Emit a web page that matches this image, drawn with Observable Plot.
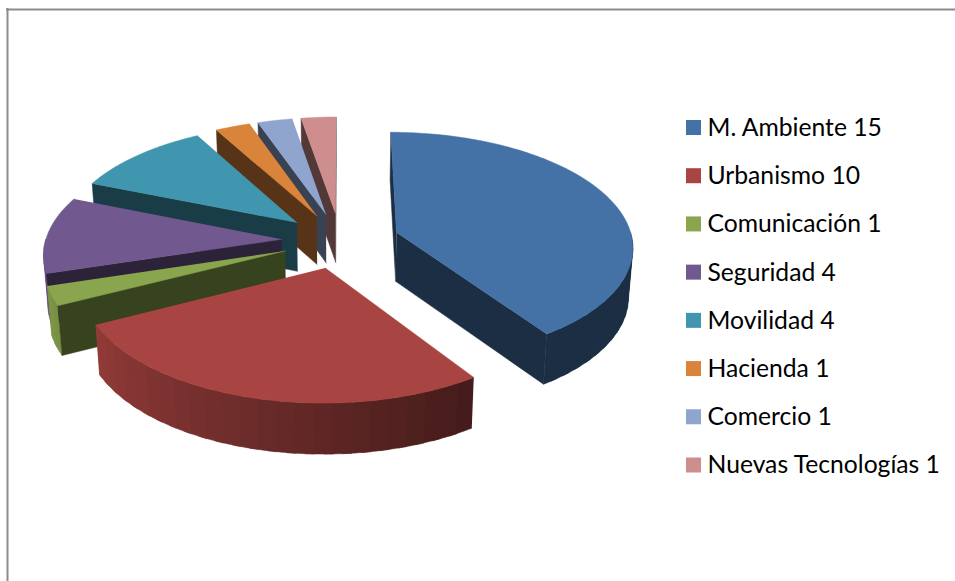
<!DOCTYPE html>
<html>
<head>
<meta charset="utf-8">
<style>html,body{margin:0;padding:0;background:#fff}svg{display:block}</style>
<script src="https://cdn.jsdelivr.net/npm/d3@7"></script>
<script src="https://cdn.jsdelivr.net/npm/@observablehq/plot@0.6"></script>
</head>
<body>
<div id="chart"></div>
<script>
const categories = ["M. Ambiente","Urbanismo","Comunicación","Seguridad","Movilidad","Hacienda","Comercio","Nuevas Tecnologías"];
const values = [15,10,1,4,4,1,1,1];
const colors = ["#4472a7","#a84441","#89a54e","#71588f","#3f96ae","#d9833b","#8fa5cd","#ce8e8d"];

const W = 955, H = 581;
const cx = 340, cy = 240, rx = 236, ry = 245, ex = 59, ey = 60, tilt = 0.4618, persp = 0.000459, depth = 49, shrink = 0.985;
const rad = d => d * Math.PI / 180;
const total = d3.sum(values);
const shadeOf = d3.scaleLinear([146, 250], [0.4, 0.9]).clamp(true);
const darken = (c, f) => { const k = d3.rgb(c); return d3.rgb(k.r * f, k.g * f, k.b * f).formatHex(); };

function project(theta, r, mid, low) {
  const X = r * rx * Math.sin(rad(theta)) + ex * Math.sin(rad(mid));
  const Y = r * ry * Math.cos(rad(theta)) + ey * Math.cos(rad(mid));
  const s = 1 / (1 + persp * Y);
  const x = cx + X * s, y = cy - tilt * Y * s;
  return low ? {x: cx + (x - cx) * shrink, y: y + depth * (1 + 0.25 * (s - 1))} : {x, y};
}
const area2 = p => d3.sum(p, (a, i) => { const b = p[(i + 1) % p.length]; return a.x * b.y - b.x * a.y; });

let acc = 0;
const slices = values.map((v, i) => {
  const a0 = acc / total * 360; acc += v;
  const a1 = acc / total * 360;
  return {i, a0, a1, mid: (a0 + a1) / 2};
});

const rows = [];
let zid = 0;
const pushPoly = (pts, color) => { const z = zid++; pts.forEach(p => rows.push({x: p.x, y: p.y, z, color})); };

[7, 6, 5, 4, 3, 2, 1, 0].forEach(idx => {
  const {a0, a1, mid, i} = slices[idx];
  const base = colors[i];
  const wall = darken(base, 0.4);
  // outer curved wall, only the front half, in small overlapping shaded strips
  const from = Math.max(a0, 90), to = Math.min(a1, 270);
  if (to > from) {
    const step = 4;
    for (let t = from; t < to; t += step) {
      const e = Math.min(t + step + 2, to);
      const pts = [];
      for (let u = t; u < e; u += 1) pts.push(project(u, 1, mid, false));
      pts.push(project(e, 1, mid, false));
      pts.push(project(e, 1, mid, true));
      for (let u = e - 1; u >= t; u -= 1) pts.push(project(Math.max(u, t), 1, mid, true));
      pts.push(project(t, 1, mid, true));
      pushPoly(pts, darken(base, shadeOf(t + step / 2)));
    }
  }
  // radial walls, the ones that face the viewer
  [[a0, -1], [a1, 1]].forEach(([t, sign]) => {
    const q = [project(0, 0, mid, false), project(t, 1, mid, false), project(t, 1, mid, true), project(0, 0, mid, true)];
    if (area2(q) * sign > 0) pushPoly(q, wall);
  });
  // top face
  const top = [project(0, 0, mid, false)];
  for (let t = a0; t < a1; t += 1) top.push(project(t, 1, mid, false));
  top.push(project(a1, 1, mid, false));
  pushPoly(top, base);
});

const legend = categories.map((c, i) => ({label: `${c} ${values[i]}`, color: colors[i], row: i}));
const legendY = d3.scaleLinear([0, 7], [127.5, 465]);

const plot = Plot.plot({
  width: W, height: H, margin: 0,
  x: {domain: [0, W], range: [0, W], axis: null},
  y: {domain: [0, H], range: [0, H], axis: null},
  color: {type: "identity"},
  style: {background: "#fff"},
  marks: [
    Plot.ruleY([9], {x1: 6, x2: W, stroke: "#8c8c8c", strokeWidth: 2}),
    Plot.ruleX([7], {y1: 8, y2: H, stroke: "#8c8c8c", strokeWidth: 2}),
    Plot.line(rows, {x: "x", y: "y", z: "z", fill: "color", stroke: "color", strokeWidth: 0.5, curve: "linear", imageFilter: "blur(0.4px)"}),
    Plot.rect(legend, {x1: () => 686, x2: () => 701, y1: d => legendY(d.row) - 7.5, y2: d => legendY(d.row) + 7.5, fill: "color"}),
    Plot.text(legend, {x: () => 707, y: d => legendY(d.row), text: "label", textAnchor: "start", fill: "#000", fontFamily: "Lato", fontSize: 24.7})
  ]
});
document.getElementById("chart").appendChild(plot);
</script>
</body>
</html>
